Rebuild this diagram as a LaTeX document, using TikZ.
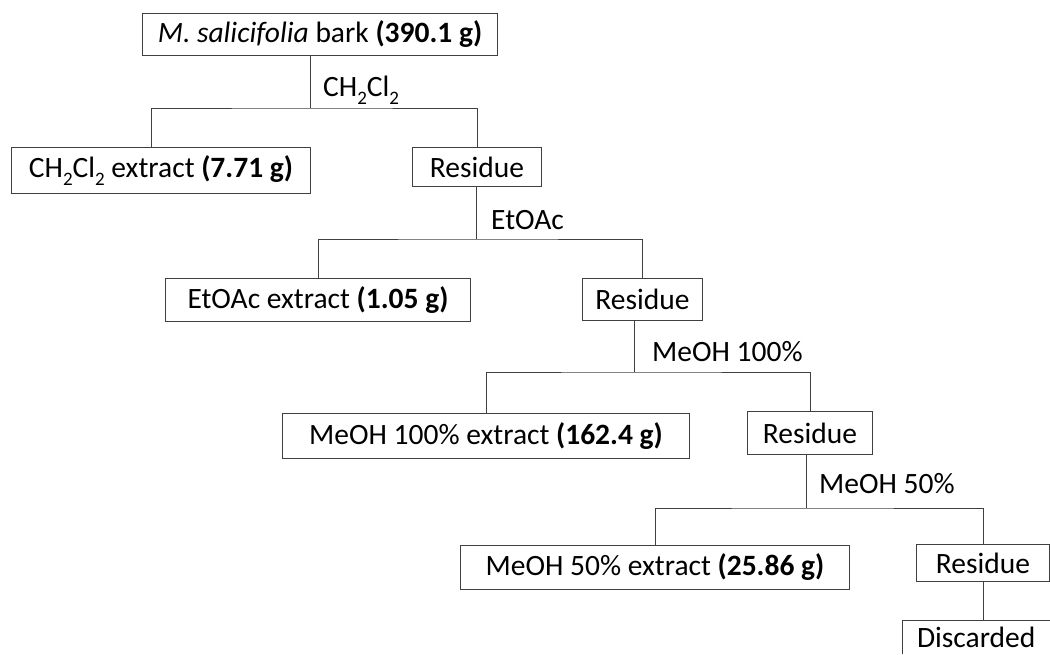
\documentclass[tikz,border=0pt]{standalone}
\usepackage{fontspec}
\setmainfont{Carlito}
\newcommand\chemsub[1]{\raisebox{-0.27em}{\fontsize{19}{19}\selectfont #1}}
\begin{document}
\begin{tikzpicture}[x=1pt,y=-1pt,
  box/.style={draw=black!75, line width=1pt, inner sep=0pt, anchor=north west, font=\fontsize{29.5}{34}\selectfont},
  openbox/.style={inner sep=0pt, anchor=north west, font=\fontsize{29.5}{34}\selectfont},
  lab/.style={anchor=west, inner sep=0pt, font=\fontsize{29.5}{34}\selectfont},
  conn/.style={draw=black!75, line width=1pt}]
\useasboundingbox (0,0) rectangle (1050,654);
% boxes
\node[box, minimum width=355pt, minimum height=42pt] (top) at (142,13) {\textit{M. salicifolia} bark \textbf{(390.1 g)}};
\node[box, minimum width=299pt, minimum height=46pt] (b2) at (11,147) {CH\chemsub{2}Cl\chemsub{2} extract \textbf{(7.71 g)}};
\node[box, minimum width=129pt, minimum height=39pt] (r1) at (412,147) {Residue};
\node[box, minimum width=305pt, minimum height=43pt] (b3) at (165,278) {EtOAc extract \textbf{(1.05 g)}};
\node[box, minimum width=120pt, minimum height=42pt] (r2) at (582,278) {Residue};
\node[box, minimum width=407pt, minimum height=45pt] (b4) at (282,413) {MeOH 100\% extract \textbf{(162.4 g)}};
\node[box, minimum width=125pt, minimum height=43pt] (r3) at (747,411) {Residue};
\node[box, minimum width=389pt, minimum height=44pt] (b5) at (460,545) {MeOH 50\% extract \textbf{(25.86 g)}};
\node[box, minimum width=133pt, minimum height=37pt] (r4) at (916,544) {Residue};
\node[openbox, minimum width=148pt, minimum height=34pt] (disc) at (902,620) {Discarded};
\draw[conn] (disc.south west) -- (disc.north west) -- (disc.north east);
% labels
\node[lab] (l1) at (323,90) {CH\chemsub{2}Cl\chemsub{2}};
\node[lab] (l2) at (491,220) {EtOAc};
\node[lab] (l3) at (652,352) {MeOH 100\%};
\node[lab] (l4) at (819,484) {MeOH 50\%};
% junctions
\coordinate (j1) at (310,108);
\coordinate (j2) at (476,239);
\coordinate (j3) at (634.5,372);
\coordinate (j4) at (806,508);
% connectors
\draw[conn] (j1 |- top.south) -- (j1);
\draw[conn] ([xshift=-10pt]b2.north) |- (j1) -| (r1.north);
\draw[conn] (j2 |- r1.south) -- (j2);
\draw[conn] (b3.north) |- (j2) -| (r2.north);
\draw[conn] (j3 |- r2.south) -- (j3);
\draw[conn] (b4.north) |- (j3) -| (r3.north);
\draw[conn] (j4 |- r3.south) -- (j4);
\draw[conn] (b5.north) |- (j4) -| (r4.north);
\draw[conn] (r4.south) -- (r4.south |- disc.north);
\end{tikzpicture}
\end{document}
